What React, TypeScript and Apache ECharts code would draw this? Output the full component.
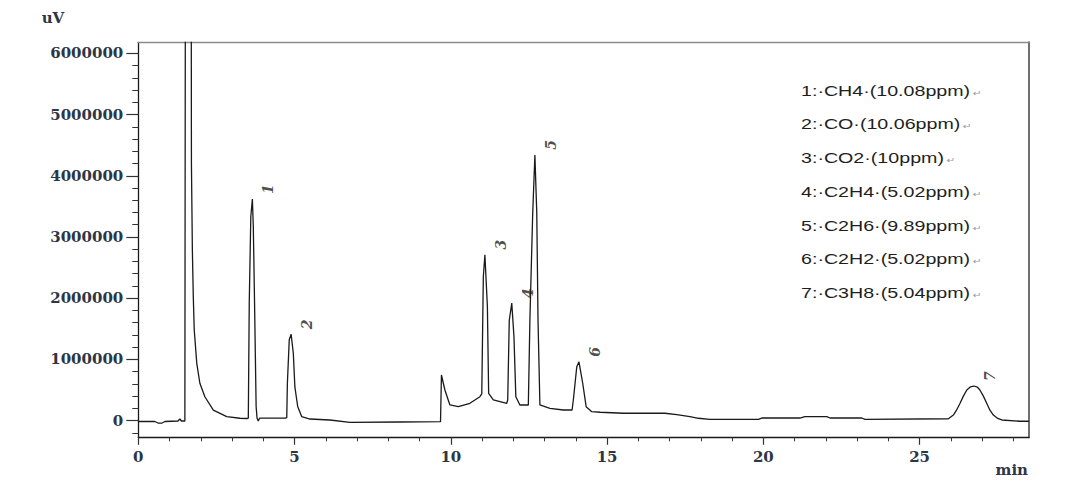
import React, { useEffect, useRef } from "react";
import * as echarts from "echarts";

// Chromatogram trace (retention time in min, detector signal in uV)
const timeMin = [
  0, 0.53, 0.63, 0.76, 0.85, 1.27, 1.33, 1.38, 1.49, 1.51, 1.69, 1.7, 1.73, 1.76, 1.79, 1.87, 1.97, 2.13, 2.4, 2.83, 3.25, 3.49,
  3.52, 3.55, 3.6, 3.65, 3.68, 3.72, 3.77, 3.8, 3.84, 3.88, 4.21, 4.71,
  4.75, 4.77, 4.83, 4.89, 4.96, 5.01, 5.1, 5.23, 5.49, 6.13, 6.77, 8.37, 9.67,
  9.7, 9.76, 9.81, 9.97, 10.24, 10.61, 10.93,
  10.99, 11.04, 11.09, 11.17, 11.21, 11.36, 11.79,
  11.82, 11.87, 11.95, 12.02, 12.08, 12.21, 12.48,
  12.53, 12.62, 12.69, 12.75, 12.79, 12.85, 13.17, 13.6, 13.88,
  13.92, 14.03, 14.1, 14.22, 14.33, 14.51, 14.78, 15.52, 16.85, 17.23, 17.65, 17.92, 18.29, 19.84, 19.95, 21.17, 21.33, 22.03, 22.13, 23.15, 23.25, 25.92,
  26.08, 26.18, 26.29, 26.4, 26.51, 26.62, 26.74, 26.85, 26.93, 27.04, 27.15, 27.25, 27.36, 27.5, 27.63, 28.21, 28.5,
];
const signalUV = [
  -15000, -15000, -40000, -40000, -15000, -7000, 26000, -7000, -7000, 9000000, 9000000, 4200000, 2780000, 2020000, 1480000, 940000, 610000, 390000, 170000, 64000, 38000, 34000,
  40000, 1920000, 3330000, 3620000, 3170000, 1920000, 230000, 38000, -7000, 40000, 40000, 40000,
  47000, 610000, 1320000, 1410000, 1100000, 550000, 230000, 64000, 26000, 10000, -28000, -23000, -18000,
  745000, 610000, 500000, 255000, 227000, 283000, 390000,
  435000, 2350000, 2710000, 1860000, 446000, 337000, 283000,
  337000, 1640000, 1920000, 1370000, 390000, 255000, 255000,
  1640000, 3390000, 4340000, 3390000, 1640000, 255000, 200000, 173000, 173000,
  337000, 880000, 960000, 610000, 227000, 145000, 136000, 120000, 120000, 96000, 64000, 38000, 21000, 21000, 42000, 42000, 64000, 64000, 42000, 42000, 21000, 30000,
  90000, 170000, 280000, 400000, 500000, 550000, 565000, 545000, 500000, 400000, 280000, 170000, 90000, 35000, 10000, -11000, -11000,
];

// Numbered peaks
const peakIds = ["1", "2", "3", "4", "5", "6", "7"];
const peakTimes = [3.65, 4.89, 11.09, 11.95, 12.69, 14.1, 26.74];
const peakHeights = [3620000, 1410000, 2710000, 1920000, 4340000, 960000, 565000];

// Peak table (text block)
const compounds = ["CH4", "CO", "CO2", "C2H4", "C2H6", "C2H2", "C3H8"];
const concentrations = ["10.08", "10.06", "10", "5.02", "9.89", "5.02", "5.04"];

// Axis ticks
const xMajorTicks = [0, 5, 10, 15, 20, 25];
const xMinorTicks = [0, 1, 2, 3, 4, 5, 6, 7, 8, 9, 10, 11, 12, 13, 14, 15, 16, 17, 18, 19, 20, 21, 22, 23, 24, 25, 26, 27, 28];
const yMajorTicks = [0, 1000000, 2000000, 3000000, 4000000, 5000000, 6000000];
const yMinorTicks = [
  -200000, 0, 200000, 400000, 600000, 800000, 1000000, 1200000, 1400000, 1600000, 1800000, 2000000, 2200000, 2400000, 2600000, 2800000,
  3000000, 3200000, 3400000, 3600000, 3800000, 4000000, 4200000, 4400000, 4600000, 4800000, 5000000, 5200000, 5400000, 5600000, 5800000, 6000000,
];
const xRange = [0, 28.5];
const yRange = [-273000, 6181000];
const yUnit = "uV";
const xUnit = "min";

const AXIS_FONT = "DejaVu Serif";
const AXIS_COLOR = "#2c3644";

export default function App() {
  const ref = useRef<HTMLDivElement>(null);

  useEffect(() => {
    if (!ref.current) return;
    const chart = echarts.init(ref.current, undefined, { renderer: "svg" });

    const trace = timeMin.map((t, i) => [t, signalUV[i]]);
    const peaks = peakIds.map((id, i) => ({ name: id, value: [peakTimes[i], peakHeights[i]] }));

    const legendTexts = compounds.map((c, i) => ({
      type: "text",
      x: 801,
      y: 90.5 + i * 33.75,
      scaleX: 1.31,
      silent: true,
      style: {
        text: `{t|${peakIds[i]}:·${c}·(${concentrations[i]}ppm)}{a|↵}`,
        verticalAlign: "middle",
        align: "left",
        rich: {
          t: { fontFamily: "Liberation Sans", fontSize: 15, fill: "#1e1e1e" },
          a: { fontFamily: "DejaVu Sans", fontSize: 8, fill: "#9a9a9a", padding: [4, 0, 0, 2] },
        },
      },
    }));

    const plain = (v: number) => String(v);
    const labelFont = { fontFamily: AXIS_FONT, fontSize: 15, fontWeight: "bold", color: AXIS_COLOR };

    const option: any = {
      animation: false,
      backgroundColor: "#ffffff",
      grid: { left: 138.3, right: 51, top: 42.3, bottom: 47.7, containLabel: false },
      xAxis: [
        {
          type: "value", position: "bottom", min: xRange[0], max: xRange[1],
          axisLine: { show: true, onZero: false, lineStyle: { color: "#1a1a1a", width: 1.3 } },
          axisTick: { show: true, customValues: xMinorTicks, length: 4, lineStyle: { color: "#333", width: 1 } },
          axisLabel: { show: false },
          splitLine: { show: false },
        },
        {
          type: "value", position: "bottom", min: xRange[0], max: xRange[1],
          axisLine: { show: false, onZero: false },
          axisTick: { show: true, customValues: xMajorTicks, length: 7.5, lineStyle: { color: "#333", width: 1.2 } },
          axisLabel: { show: true, customValues: xMajorTicks, formatter: plain, margin: 12, ...labelFont },
          splitLine: { show: false },
        },
        {
          type: "value", position: "top", min: xRange[0], max: xRange[1],
          axisLine: { show: true, onZero: false, lineStyle: { color: "#8c8c8c", width: 1.4 } },
          axisTick: { show: false }, axisLabel: { show: false }, splitLine: { show: false },
        },
      ],
      yAxis: [
        {
          type: "value", position: "left", min: yRange[0], max: yRange[1],
          axisLine: { show: true, onZero: false, lineStyle: { color: "#1a1a1a", width: 1.3 } },
          axisTick: { show: true, customValues: yMinorTicks, length: 6, lineStyle: { color: "#333", width: 1 } },
          axisLabel: { show: false },
          splitLine: { show: false },
        },
        {
          type: "value", position: "left", min: yRange[0], max: yRange[1],
          axisLine: { show: false, onZero: false },
          axisTick: { show: true, customValues: yMajorTicks, length: 12, lineStyle: { color: "#333", width: 1.2 } },
          axisLabel: { show: true, customValues: yMajorTicks, formatter: plain, margin: 15, ...labelFont },
          splitLine: { show: false },
        },
        {
          type: "value", position: "right", min: yRange[0], max: yRange[1],
          axisLine: { show: true, onZero: false, lineStyle: { color: "#6e6e6e", width: 2 } },
          axisTick: { show: false }, axisLabel: { show: false }, splitLine: { show: false },
        },
      ],
      series: [
        {
          type: "line",
          data: trace,
          xAxisIndex: 0,
          yAxisIndex: 0,
          showSymbol: false,
          clip: true,
          lineStyle: { color: "#1a1a1a", width: 1.3 },
          silent: true,
        },
        {
          type: "scatter",
          data: peaks,
          xAxisIndex: 0,
          yAxisIndex: 0,
          symbolSize: 1,
          itemStyle: { color: "rgba(0,0,0,0)" },
          silent: true,
          z: 5,
          label: {
            show: true,
            formatter: "{b}",
            position: "inside",
            offset: [10, 16],
            rotate: 90,
            fontFamily: AXIS_FONT,
            fontStyle: "italic",
            fontWeight: "bold",
            fontSize: 14,
            color: "#1e1e1e",
          },
        },
      ],
      graphic: [
        {
          type: "text", left: 41.7, top: 10, silent: true,
          style: { text: yUnit, fontFamily: AXIS_FONT, fontSize: 15, fontWeight: "bold", fill: AXIS_COLOR },
        },
        {
          type: "text", right: 52, top: 462, silent: true,
          style: { text: xUnit, fontFamily: AXIS_FONT, fontSize: 15, fontWeight: "bold", fill: AXIS_COLOR },
        },
        ...legendTexts,
      ],
    };

    chart.setOption(option);
    return () => chart.dispose();
  }, []);

  return (
    <div
      ref={ref}
      style={{ position: "absolute", left: 0, top: 0, width: 1080, height: 485, background: "#fff" }}
    />
  );
}
